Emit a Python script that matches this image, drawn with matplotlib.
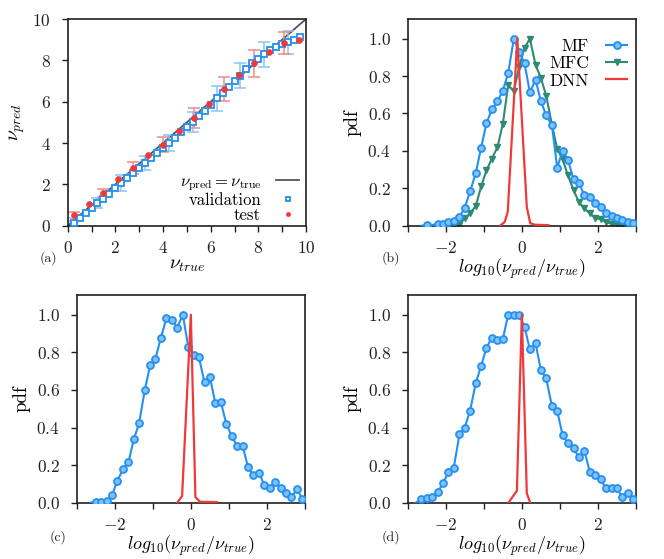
import numpy as np
import matplotlib
matplotlib.use("Agg")
import matplotlib.pyplot as plt

plt.rcParams['font.family'] = ['cmr10', 'DejaVu Serif']
plt.rcParams['mathtext.fontset'] = 'cm'
plt.rcParams['axes.formatter.use_mathtext'] = True
plt.rcParams['axes.unicode_minus'] = True

# ---------------- data: panel (a) ----------------
val_x = [0.25, 0.5, 0.75, 1.0, 1.25, 1.5, 1.75, 2.0, 2.25, 2.5, 2.75, 3.0, 3.25,
         3.5, 3.75, 4.0, 4.25, 4.5, 4.75, 5.0, 5.25, 5.5, 5.75, 6.0, 6.25, 6.5,
         6.75, 7.0, 7.25, 7.5, 7.75, 8.0, 8.25, 8.5, 8.75, 9.0, 9.25, 9.5, 9.75]
val_y = [0.15, 0.35, 0.63, 0.85, 1.1, 1.28, 1.53, 1.8, 2.08, 2.3, 2.56, 2.78, 3.02,
         3.27, 3.52, 3.77, 4.0, 4.26, 4.52, 4.76, 5.02, 5.3, 5.53, 5.85, 6.16, 6.4,
         6.69, 7.0, 7.25, 7.58, 7.85, 8.08, 8.3, 8.52, 8.64, 8.78, 8.87, 9.0, 9.12]
val_err_x = [0.25, 1.25, 2.25, 3.25, 4.25, 5.25, 6.25, 7.25, 8.25, 9.25]
val_err_y = [0.15, 1.1, 2.08, 3.02, 4.0, 5.02, 6.16, 7.25, 8.3, 8.87]
val_err = [0.2, 0.23, 0.39, 0.34, 0.4, 0.5, 0.6, 0.6, 0.6, 0.54]

test_x = [0.25, 0.88, 1.5, 2.13, 2.76, 3.39, 4.02, 4.65, 5.28, 5.91, 6.54, 7.17,
          7.8, 8.43, 9.06, 9.69]
test_y = [0.52, 1.03, 1.6, 2.24, 2.8, 3.4, 3.92, 4.56, 5.21, 5.87, 6.6, 7.29,
          7.85, 8.42, 8.82, 9.0]
test_err_x = [0.25, 1.5, 2.76, 4.02, 5.28, 6.54, 7.8, 9.06]
test_err_y = [0.44, 1.6, 2.8, 3.92, 5.21, 6.6, 7.85, 8.82]
test_err = [0.2, 0.19, 0.28, 0.37, 0.48, 0.59, 0.66, 0.53]

ident = [0, 10]

# ---------------- data: panel (b) ----------------
b_mf_x = [-2.64, -2.5, -2.21, -2.07, -1.93, -1.78, -1.64, -1.5, -1.36, -1.21, -1.07,
          -0.93, -0.79, -0.64, -0.5, -0.36, -0.21, -0.07, 0.07, 0.21, 0.36, 0.5,
          0.64, 0.79, 0.93, 1.07, 1.21, 1.36, 1.5, 1.64, 1.79, 1.93, 2.07, 2.21,
          2.36, 2.5, 2.64, 2.79, 2.93]
b_mf_y = [0.0, 0.002, 0.007, 0.01, 0.018, 0.025, 0.045, 0.097, 0.183, 0.282, 0.418,
          0.547, 0.622, 0.665, 0.722, 0.815, 1.0, 0.93, 0.87, 0.713, 0.78, 0.665,
          0.59, 0.536, 0.31, 0.40, 0.353, 0.247, 0.23, 0.163, 0.151, 0.119, 0.098,
          0.066, 0.052, 0.039, 0.03, 0.021, 0.016]
b_mfc_x = [-1.93, -1.78, -1.64, -1.5, -1.36, -1.21, -1.07, -0.93, -0.79, -0.64,
           -0.5, -0.36, -0.21, -0.07, 0.07, 0.21, 0.36, 0.5, 0.64, 0.79, 0.93, 1.07,
           1.21, 1.36, 1.5, 1.64, 1.79, 1.93, 2.07, 2.21, 2.36, 2.5, 2.64, 2.79, 2.93]
b_mfc_y = [0.0, 0.003, 0.005, 0.04, 0.066, 0.105, 0.21, 0.296, 0.358, 0.42,
           0.545, 0.75, 0.72, 0.85, 0.95, 1.0, 0.86, 0.79, 0.695, 0.54, 0.41, 0.355,
           0.27, 0.19, 0.125, 0.092, 0.066, 0.04, 0.035, 0.02, 0.01, 0.005, 0.004,
           0.003, 0.002]
b_dnn_x = [-0.57, -0.45, -0.37, -0.12, 0.13, 0.22, 0.35, 0.7]
b_dnn_y = [0.0, 0.02, 0.075, 1.0, 0.1, 0.013, 0.005, 0.003]

# ---------------- data: panel (c) ----------------
c_mf_x = [-2.64, -2.5, -2.36, -2.21, -2.07, -1.93, -1.78, -1.64, -1.5, -1.36, -1.21,
          -1.07, -0.93, -0.79, -0.64, -0.5, -0.36, -0.21, -0.07, 0.07, 0.21, 0.36,
          0.5, 0.64, 0.79, 0.93, 1.07, 1.21, 1.36, 1.5, 1.64, 1.79, 1.93, 2.07,
          2.21, 2.36, 2.5, 2.64, 2.79, 2.93]
c_mf_y = [0.0, 0.005, 0.005, 0.01, 0.04, 0.117, 0.18, 0.215, 0.337, 0.423, 0.6,
          0.73, 0.767, 0.876, 0.982, 0.973, 0.932, 1.0, 0.83, 0.787, 0.774, 0.64,
          0.668, 0.533, 0.535, 0.42, 0.357, 0.304, 0.304, 0.19, 0.147, 0.16, 0.094,
          0.076, 0.11, 0.076, 0.05, 0.028, 0.073, 0.02]
c_dnn_x = [-0.36, -0.23, 0.0, 0.12, 0.24, 0.69]
c_dnn_y = [0.0, 0.035, 1.0, 0.03, 0.005, 0.003]

# ---------------- data: panel (d) ----------------
d_mf_x = [-2.79, -2.64, -2.5, -2.36, -2.21, -2.07, -1.93, -1.79, -1.64, -1.5, -1.36,
          -1.21, -1.07, -0.93, -0.79, -0.64, -0.5, -0.36, -0.21, -0.07, 0.07, 0.21,
          0.36, 0.5, 0.64, 0.79, 0.93, 1.07, 1.21, 1.36, 1.5, 1.64, 1.79, 1.93,
          2.07, 2.21, 2.36, 2.5, 2.64, 2.79, 2.93]
d_mf_y = [0.0, 0.018, 0.023, 0.028, 0.058, 0.103, 0.163, 0.186, 0.363, 0.4, 0.49,
          0.638, 0.727, 0.824, 0.878, 0.863, 0.87, 1.0, 0.996, 1.0, 0.936, 0.816,
          0.848, 0.706, 0.661, 0.514, 0.488, 0.36, 0.316, 0.289, 0.241, 0.277, 0.162,
          0.147, 0.124, 0.076, 0.076, 0.076, 0.029, 0.05, 0.018]
d_dnn_x = [-0.35, -0.13, 0.0, 0.13, 0.22]
d_dnn_y = [0.0, 0.064, 1.0, 0.05, 0.0]

# ---------------- style ----------------
BLUE = '#2490f0'
BLUE_FACE = '#7cc0ff'
GREEN = '#2e8a72'
RED = '#f03a3a'
SPINE = '#231f20'
TICK_FS = 12.5
LAB_FS = 13

fig = plt.figure(figsize=(6.64, 5.59), dpi=100)
W, H = 664.0, 559.0

def add_ax(l, r, t, b):
    return fig.add_axes([l / W, 1 - b / H, (r - l) / W, (b - t) / H])

ax_a = add_ax(67.7, 306, 19, 225.7)
ax_b = add_ax(407.7, 636, 19, 225.7)
ax_c = add_ax(76.7, 305, 295, 502.7)
ax_d = add_ax(407.7, 636, 295, 502.7)

for ax in (ax_a, ax_b, ax_c, ax_d):
    for sp in ax.spines.values():
        sp.set_linewidth(1.2)
        sp.set_color(SPINE)
    ax.tick_params(which='both', direction='out', length=4, width=1.0,
                   color=SPINE, labelsize=TICK_FS, labelcolor='#222222',
                   top=False, right=False)
    ax.tick_params(axis='x', which='both', pad=6.5)
    ax.tick_params(axis='y', which='both', pad=8)

# ---- panel (a)
ax_a.plot(ident, ident, color='#555555', lw=1.3, zorder=1,
          label=r'$\nu_{\rm pred} = \nu_{\rm true}$')
ax_a.errorbar(val_err_x, val_err_y, yerr=val_err, fmt='none', ecolor='#8cc4f5',
              elinewidth=1.1, capsize=4.3, capthick=1.1, zorder=2)
ax_a.errorbar(test_err_x, test_err_y, yerr=test_err, fmt='none', ecolor='#f08a8a',
              elinewidth=1.1, capsize=4.3, capthick=1.1, zorder=2)
ax_a.plot(val_x, val_y, ls='none', marker='s', ms=5, mfc='white', mec=BLUE,
          mew=1.3, zorder=3, label='validation')
ax_a.plot(test_x, test_y, ls='none', marker='o', ms=4.2, mfc=RED, mec=RED,
          mew=0.5, zorder=4, label='test')
ax_a.set_xlim(0, 10)
ax_a.set_ylim(0, 10)
ax_a.set_xticks([0, 2, 4, 6, 8, 10])
ax_a.set_xticks([1, 3, 5, 7, 9], minor=True)
ax_a.set_yticks([0, 2, 4, 6, 8, 10])
ax_a.set_xlabel(r'$\nu_{true}$', fontsize=LAB_FS + 1, labelpad=0)
ax_a.set_ylabel(r'$\nu_{pred}$', fontsize=LAB_FS + 1, labelpad=4)
leg = ax_a.legend(loc='lower right', frameon=False, markerfirst=False,
                  fontsize=12, handlelength=1.4, handletextpad=0.9,
                  labelspacing=0.0, borderaxespad=0.0, markerscale=0.7,
                  bbox_to_anchor=(1.0, -0.02))
for t in leg.get_texts():
    t.set_ha('right')

# ---- pdf panels
def pdf_panel(ax, mf_x, mf_y, dnn_x, dnn_y, mfc_x=None, mfc_y=None):
    ax.plot(mf_x, mf_y, color=BLUE, lw=1.5, marker='o', ms=5, mfc=BLUE_FACE,
            mec=BLUE, mew=1.3, markevery=slice(1, None), zorder=3, label='MF')
    if mfc_x is not None:
        ax.plot(mfc_x, mfc_y, color=GREEN, lw=1.5, marker='v', ms=4.8, mfc=GREEN,
                mec=GREEN, markevery=slice(1, None), zorder=2, label='MFC')
    ax.plot(dnn_x, dnn_y, color=RED, lw=1.6, zorder=4, label='DNN')
    ax.set_xlim(-3, 3)
    ax.set_ylim(0, 1.105)
    ax.set_xticks([-2, 0, 2])
    ax.set_xticks([-3, -1, 1, 3], minor=True)
    ax.set_yticks([0.0, 0.2, 0.4, 0.6, 0.8, 1.0])
    ax.set_xlabel(r'$log_{10}(\nu_{pred}/\nu_{true})$', fontsize=LAB_FS, labelpad=0)
    ax.set_ylabel('pdf', fontsize=LAB_FS + 0.5, labelpad=4)

pdf_panel(ax_b, b_mf_x, b_mf_y, b_dnn_x, b_dnn_y, b_mfc_x, b_mfc_y)
pdf_panel(ax_c, c_mf_x, c_mf_y, c_dnn_x, c_dnn_y)
pdf_panel(ax_d, d_mf_x, d_mf_y, d_dnn_x, d_dnn_y)

leg_b = ax_b.legend(loc='upper right', frameon=False, markerfirst=False,
                    fontsize=12.5, handlelength=1.2, handletextpad=1.0,
                    labelspacing=0.12, borderaxespad=0.3, bbox_to_anchor=(1.015, 0.965))
for t in leg_b.get_texts():
    t.set_ha('right')

# ---- panel labels
for lab, (px, py) in zip(['(a)', '(b)', '(c)', '(d)'],
                         [(40, 258), (381.5, 258), (50, 537), (381.5, 537)]):
    fig.text(px / W, 1 - py / H, lab, fontsize=10, va='center', ha='left',
             color='#222222')

fig.savefig('out.png', dpi=100)
